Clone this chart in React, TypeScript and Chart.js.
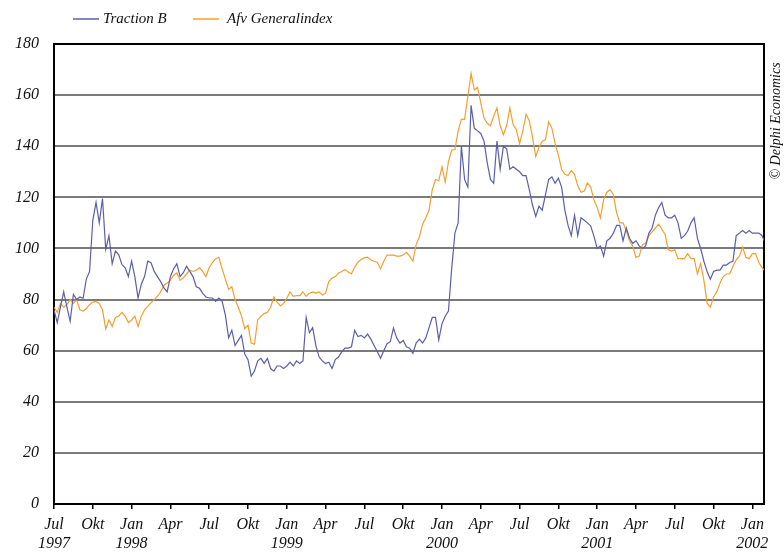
import React, { useEffect, useRef } from "react";
import { Chart, registerables } from "chart.js";

Chart.register(...registerables);

// Weekly readings (step = 0.25 month), starting July 1997
const STEP = 0.25;
const tractionB = [
  76, 71, 77, 83, 77, 71.5, 82, 80,
  81, 80.5, 88, 91, 111, 118, 110, 119.5,
  99.6, 105, 94, 99, 97.6, 93.7, 92.4, 89,
  95, 89, 80.6, 86, 89, 95, 94.4, 91,
  89, 87, 84.6, 83, 89, 92, 94, 89,
  90.5, 93, 91, 89, 85, 84.4, 82.4, 81,
  80.6, 80.6, 79.3, 80.6, 79.3, 74, 65, 68,
  62, 64, 66, 58.7, 56.5, 50, 52, 56,
  57, 55, 57, 53, 52, 54, 54, 53,
  54, 55.5, 54, 56, 55, 56, 73, 67,
  69, 62, 57.5, 56, 55, 55.5, 53, 56.5,
  57.5, 59.5, 61, 61, 61.5, 68, 65.5, 66,
  65, 66.5, 64.5, 62, 59.6, 57, 60, 62.7,
  63.5, 68.8, 65, 63, 64, 61.5, 61, 59,
  63, 64.5, 63, 65, 69, 73, 73, 64.2,
  70.5, 73.5, 75.5, 92, 106, 110, 140, 127,
  124, 156, 147, 146, 145, 142, 133.5, 127,
  125.5, 142, 131, 140, 139, 131, 132, 131,
  130, 128.5, 128.5, 123, 117, 112.5, 116.5, 115,
  121, 127, 128, 125.5, 127.5, 124, 115, 109,
  105, 113, 105, 112, 111, 110, 108.8, 104.8,
  100, 101, 97, 103, 104, 106, 109, 109,
  103, 108, 104, 102, 103, 101, 100, 101,
  106, 108, 113, 116, 118, 113, 112, 112,
  113, 110, 104, 105, 106.8, 110, 112, 104,
  100, 95, 91, 88, 91, 91.5, 91.5, 93.5,
  93.5, 94.5, 95, 105, 106, 107, 106, 107,
  106, 106, 106, 105, 102,
];
const afvGeneralindex = [
  77, 75, 78.5, 77, 78, 80, 78.5, 80,
  76, 75.5, 76.5, 78, 79, 79.3, 78.5, 76,
  68.5, 72, 69.5, 73, 73.5, 75, 73.5, 71,
  72, 73.5, 69.5, 73.5, 76, 77.4, 78.7, 80,
  81.3, 83, 85.5, 86.5, 87.5, 89.5, 90.4, 87.5,
  88.5, 90, 91.5, 91, 91.5, 92.5, 91, 89,
  92.5, 94.5, 96, 96.5, 92, 88, 84, 85,
  80, 77, 73.5, 68.6, 70, 63, 62.5, 72,
  73.5, 74.5, 75, 77, 81, 79, 77.5, 78.5,
  80.5, 83, 81.3, 81.5, 81.5, 83, 81.3, 82.5,
  83, 82.5, 83, 81.8, 82.5, 87, 88.4, 89,
  90.4, 91, 91.8, 90.8, 90, 92.7, 94.6, 95.7,
  96.3, 96.6, 95.5, 95, 94.6, 92, 95, 97.4,
  97.4, 97.4, 97, 97, 97.4, 98.5, 97, 95,
  101.5, 104.5, 109.5, 112, 115, 123, 127, 126.5,
  132, 126, 134, 138.5, 138.7, 146, 150.5, 150.5,
  159.5, 168.5, 162, 163, 157, 151, 149, 148,
  151.8, 155, 148, 144.5, 148, 155, 148.5, 146.5,
  141, 146, 152.5, 150, 143.5, 136, 139.5, 142,
  142.5, 149.5, 147, 141, 136.5, 131, 129, 128.5,
  130.5, 129, 124.5, 122, 122.5, 125.6, 124, 119,
  116, 112, 119, 122, 123, 121, 114, 110,
  110, 107, 103, 101, 96.5, 97, 101.5, 102,
  105, 106.5, 108, 109.5, 107.5, 105.5, 99.5, 99,
  99.5, 96, 96, 96, 98, 96, 96, 90,
  94, 87.5, 78.6, 77, 81, 83, 86.5, 89,
  90, 90, 93, 95.5, 97, 100.5, 96.5, 96,
  98, 98, 94.5, 92.5, 91,
];

const tickMonths = ["Jul", "Okt", "Jan", "Apr", "Jul", "Okt", "Jan", "Apr", "Jul", "Okt", "Jan", "Apr", "Jul", "Okt", "Jan", "Apr", "Jul", "Okt", "Jan"];
const tickYears = ["1997", "", "1998", "", "", "", "1999", "", "", "", "2000", "", "", "", "2001", "", "", "", "2002"];
const seriesNames = ["Traction B", "Afv Generalindex"];
const seriesColors = ["#5c5fa8", "#f0a030"];
const copyright = "© Delphi Economics";

const FONT = "'Liberation Serif', 'Times New Roman', serif";

export default function App() {
  const ref = useRef<HTMLCanvasElement>(null);
  useEffect(() => {
    const canvas = ref.current;
    if (!canvas) return;
    const toXY = (arr: number[]) => arr.map((v, i) => ({ x: i * STEP, y: v }));

    const decor = {
      id: "decor",
      beforeDatasetsDraw(chart: any) {
        const { ctx, chartArea: a } = chart;
        ctx.save();
        ctx.strokeStyle = "#000";
        ctx.lineWidth = 2;
        ctx.strokeRect(a.left, a.top, a.right - a.left, a.bottom - a.top);
        ctx.restore();
      },
      afterDraw(chart: any) {
        const { ctx } = chart;
        ctx.save();
        // legend
        ctx.font = `italic 15px ${FONT}`;
        ctx.textBaseline = "middle";
        ctx.fillStyle = "#111";
        const items = [
          { x: 73, tx: 103 },
          { x: 193, tx: 227 },
        ];
        items.forEach((it, i) => {
          ctx.strokeStyle = seriesColors[i];
          ctx.lineWidth = 1.5;
          ctx.beginPath();
          ctx.moveTo(it.x, 19);
          ctx.lineTo(it.x + 26, 19);
          ctx.stroke();
          ctx.fillText(seriesNames[i], it.tx, 19);
        });
        // copyright
        ctx.translate(776, 121);
        ctx.rotate(-Math.PI / 2);
        ctx.textAlign = "center";
        ctx.font = `italic 14px ${FONT}`;
        ctx.fillText(copyright, 0, 0);
        ctx.restore();
      },
    };

    const chart = new Chart(canvas, {
      type: "line",
      data: {
        datasets: [
          {
            label: seriesNames[0],
            data: toXY(tractionB),
            borderColor: seriesColors[0],
            borderWidth: 1.2,
            pointRadius: 0,
            tension: 0,
          },
          {
            label: seriesNames[1],
            data: toXY(afvGeneralindex),
            borderColor: seriesColors[1],
            borderWidth: 1.2,
            pointRadius: 0,
            tension: 0,
          },
        ],
      },
      options: {
        animation: false,
        responsive: false,
        maintainAspectRatio: false,
        layout: { padding: { top: 44, right: 20, left: 0, bottom: 0 } },
        plugins: { legend: { display: false }, tooltip: { enabled: false } },
        scales: {
          x: {
            type: "linear",
            min: 0,
            max: 54.9,
            afterBuildTicks: (s: any) => {
              s.ticks = tickMonths.map((_, i) => ({ value: i * 3 }));
            },
            afterFit: (s: any) => {
              s.height = 49;
            },
            grid: { drawOnChartArea: false, color: "#000", lineWidth: 1.5, tickLength: 5 },
            border: { color: "#000", width: 2 },
            ticks: {
              autoSkip: false,
              maxRotation: 0,
              padding: 6,
              color: "#111",
              font: { family: FONT, size: 16, style: "italic" },
              callback: (v: any) => {
                const i = Math.round(Number(v) / 3);
                return tickYears[i] ? [tickMonths[i], tickYears[i]] : tickMonths[i];
              },
            },
          },
          y: {
            min: 0,
            max: 180,
            afterFit: (s: any) => {
              s.width = 54;
            },
            grid: { color: "#7a7a7a", lineWidth: 2, drawTicks: false },
            border: { color: "#000", width: 2 },
            ticks: {
              stepSize: 20,
              padding: 15,
              color: "#111",
              font: { family: FONT, size: 16, style: "italic" },
            },
          },
        },
      },
      plugins: [decor],
    });
    return () => chart.destroy();
  }, []);

  return (
    <div style={{ position: "fixed", left: 0, top: 0, width: 784, height: 553, background: "#fff" }}>
      <canvas ref={ref} width={784} height={553} style={{ width: 784, height: 553 }} />
    </div>
  );
}
